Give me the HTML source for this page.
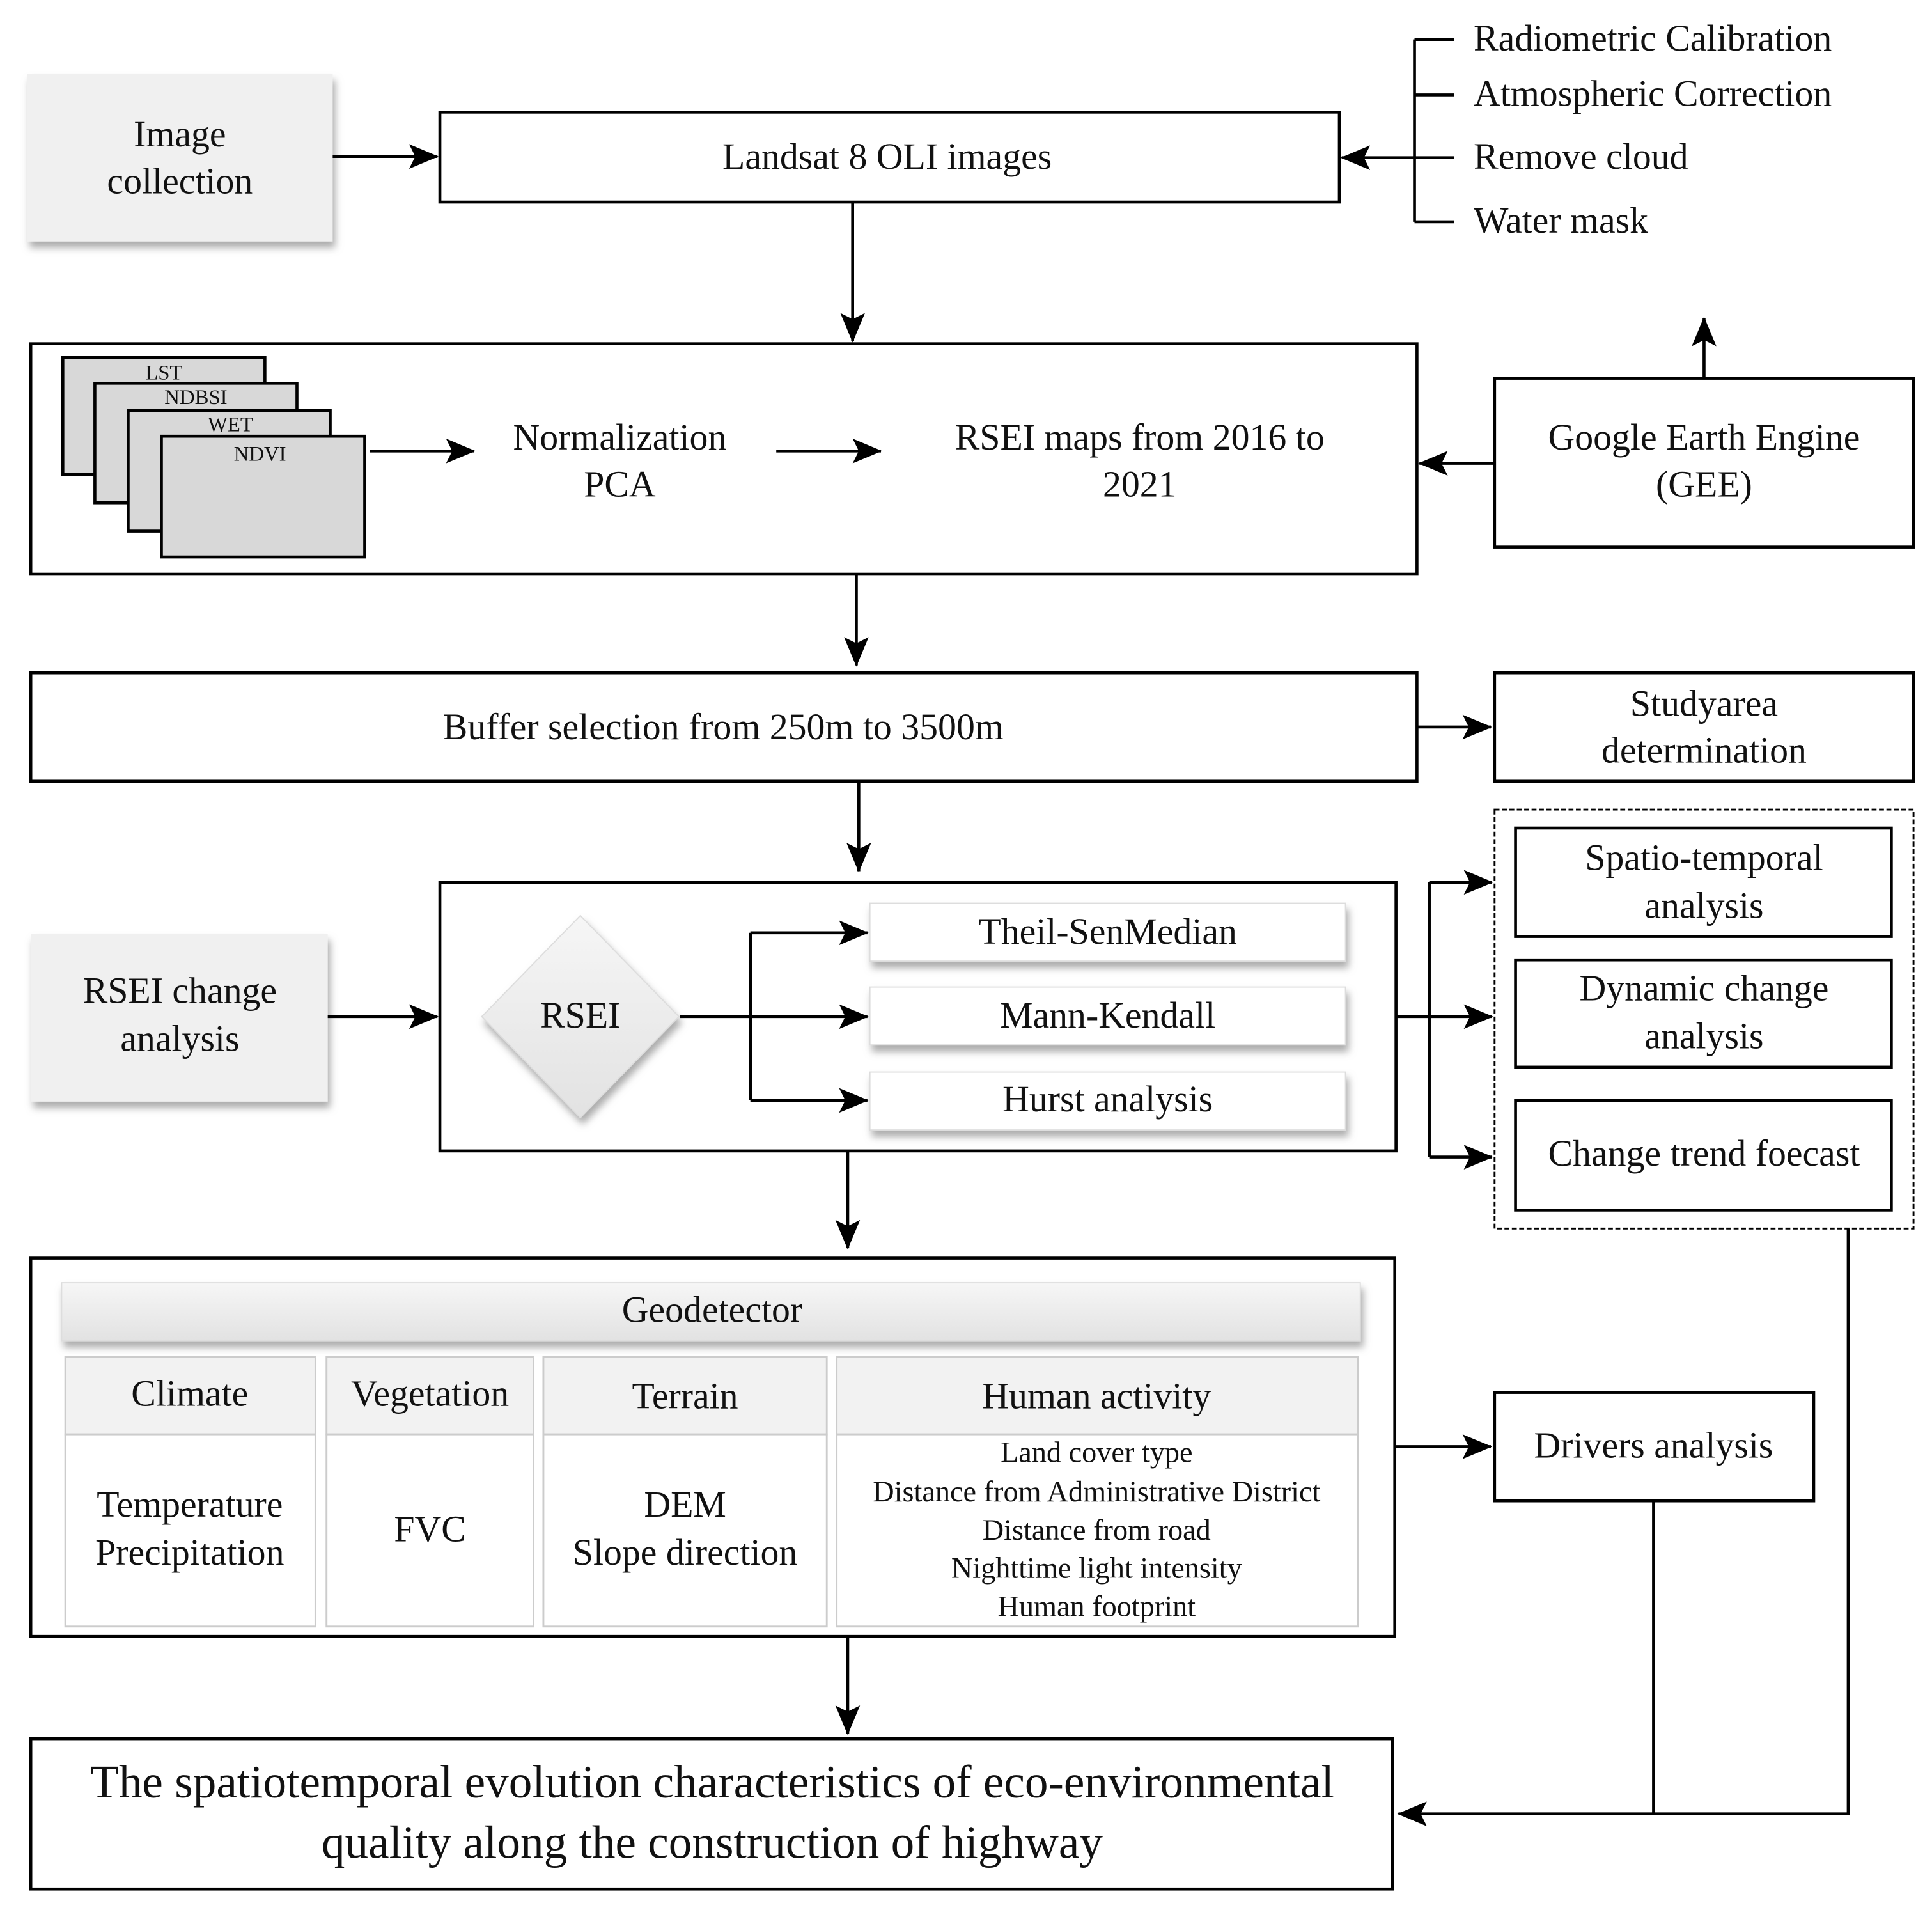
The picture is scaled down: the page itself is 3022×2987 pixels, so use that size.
<!DOCTYPE html>
<html><head><style>html,body{margin:0;padding:0;background:#fff}svg{display:block}</style></head><body>
<svg width="3022" height="2987" viewBox="0 0 1568 1550" preserveAspectRatio="none" xmlns="http://www.w3.org/2000/svg" font-family="Liberation Serif, serif" fill="#111">
<defs>
<marker id="A" markerWidth="24" markerHeight="20" refX="23" refY="10" orient="auto" markerUnits="userSpaceOnUse" viewBox="0 0 24 20"><path d="M0,0 L24,10 L0,20 L5,10 z" fill="#000"/></marker>
<filter id="sh" x="-10%" y="-10%" width="130%" height="140%"><feDropShadow dx="2" dy="5" stdDeviation="3" flood-color="#888" flood-opacity="0.7"/></filter>
<linearGradient id="g" x1="0" y1="0" x2="0" y2="1"><stop offset="0" stop-color="#f6f6f6"/><stop offset="1" stop-color="#e2e2e2"/></linearGradient>
</defs>
<g stroke="#000" stroke-width="2.4" fill="none">
<rect x="22" y="60" width="248" height="136" fill="#f0f0f0" stroke="none" filter="url(#sh)"/>
<rect x="357" y="91" width="730" height="73" fill="#fff"/>
<line x1="270" y1="127" x2="355" y2="127" marker-end="url(#A)"/>
<line x1="1148" y1="32" x2="1148" y2="180"/>
<line x1="1148" y1="32" x2="1180" y2="32"/><line x1="1148" y1="77" x2="1180" y2="77"/><line x1="1148" y1="128" x2="1180" y2="128"/><line x1="1148" y1="180" x2="1180" y2="180"/>
<line x1="1148" y1="128" x2="1089" y2="128" marker-end="url(#A)"/>
<line x1="692" y1="164" x2="692" y2="277" marker-end="url(#A)"/>
<rect x="25" y="279" width="1125" height="187"/>
<rect x="51" y="290" width="164" height="95" fill="#d8d8d8"/>
<rect x="77" y="311" width="164" height="97" fill="#d8d8d8"/>
<rect x="104" y="333" width="164" height="98" fill="#d8d8d8"/>
<rect x="131" y="354" width="165" height="98" fill="#d8d8d8"/>
<line x1="300" y1="366" x2="385" y2="366" marker-end="url(#A)"/>
<line x1="630" y1="366" x2="715" y2="366" marker-end="url(#A)"/>
<rect x="1213" y="307" width="340" height="137"/>
<line x1="1213" y1="376" x2="1152" y2="376" marker-end="url(#A)"/>
<line x1="1383" y1="307" x2="1383" y2="258" marker-end="url(#A)"/>
<line x1="695" y1="466" x2="695" y2="540" marker-end="url(#A)"/>
<rect x="25" y="546" width="1125" height="88"/>
<line x1="1150" y1="590" x2="1210" y2="590" marker-end="url(#A)"/>
<rect x="1213" y="546" width="340" height="88"/>
<line x1="697" y1="634" x2="697" y2="707" marker-end="url(#A)"/>
<rect x="25" y="758" width="241" height="136" fill="#f0f0f0" stroke="none" filter="url(#sh)"/>
<line x1="266" y1="825" x2="355" y2="825" marker-end="url(#A)"/>
<rect x="357" y="716" width="776" height="218"/>
<polygon points="471,743 551,825 471,907 391,825" fill="url(#g)" stroke="#ddd" stroke-width="1" filter="url(#sh)"/>
<rect x="706" y="733" width="386" height="47" fill="#fff" stroke="#ddd" stroke-width="1" filter="url(#sh)"/>
<rect x="706" y="801" width="386" height="47" fill="#fff" stroke="#ddd" stroke-width="1" filter="url(#sh)"/>
<rect x="706" y="870" width="386" height="47" fill="#fff" stroke="#ddd" stroke-width="1" filter="url(#sh)"/>
<line x1="552" y1="825" x2="704" y2="825" marker-end="url(#A)"/>
<line x1="609" y1="757" x2="609" y2="893"/>
<line x1="609" y1="757" x2="704" y2="757" marker-end="url(#A)"/>
<line x1="609" y1="893" x2="704" y2="893" marker-end="url(#A)"/>
<line x1="1133" y1="825" x2="1160" y2="825"/>
<line x1="1160" y1="716" x2="1160" y2="939"/>
<line x1="1160" y1="716" x2="1211" y2="716" marker-end="url(#A)"/>
<line x1="1160" y1="825" x2="1211" y2="825" marker-end="url(#A)"/>
<line x1="1160" y1="939" x2="1211" y2="939" marker-end="url(#A)"/>
<rect x="1213" y="657" width="340" height="340" stroke-dasharray="4,2" stroke-width="1.5"/>
<rect x="1230" y="672" width="305" height="88"/>
<rect x="1230" y="779" width="305" height="87"/>
<rect x="1230" y="893" width="305" height="89"/>
<polyline points="1500,997 1500,1472 1135,1472" marker-end="url(#A)"/>
<line x1="688" y1="934" x2="688" y2="1013" marker-end="url(#A)"/>
<rect x="25" y="1021" width="1107" height="307"/>
<rect x="50" y="1041" width="1054" height="47" fill="url(#g)" stroke="#ddd" stroke-width="1" filter="url(#sh)"/>
<g stroke="#ccc" stroke-width="1.5">
<rect x="53" y="1101" width="203" height="63" fill="#f2f2f2"/><rect x="53" y="1164" width="203" height="156" fill="#fff"/>
<rect x="265" y="1101" width="168" height="63" fill="#f2f2f2"/><rect x="265" y="1164" width="168" height="156" fill="#fff"/>
<rect x="441" y="1101" width="230" height="63" fill="#f2f2f2"/><rect x="441" y="1164" width="230" height="156" fill="#fff"/>
<rect x="679" y="1101" width="423" height="63" fill="#f2f2f2"/><rect x="679" y="1164" width="423" height="156" fill="#fff"/>
</g>
<line x1="1132" y1="1174" x2="1210" y2="1174" marker-end="url(#A)"/>
<rect x="1213" y="1130" width="259" height="88"/>
<line x1="1342" y1="1218" x2="1342" y2="1472"/>
<line x1="688" y1="1328" x2="688" y2="1407" marker-end="url(#A)"/>
<rect x="25" y="1411" width="1105" height="122"/>
</g>
<g font-size="30" text-anchor="middle" dominant-baseline="middle" transform="translate(0,2)">
<text x="146" y="110">Image</text><text x="146" y="148">collection</text>
<text x="720" y="128">Landsat 8 OLI images</text>
<g text-anchor="start"><text x="1196" y="32">Radiometric Calibration</text><text x="1196" y="77">Atmospheric Correction</text><text x="1196" y="128">Remove cloud</text><text x="1196" y="180">Water mask</text></g>
<g font-size="17"><text x="133" y="302">LST</text><text x="159" y="322">NDBSI</text><text x="187" y="344">WET</text><text x="211" y="368">NDVI</text></g>
<text x="503" y="356">Normalization</text><text x="503" y="394">PCA</text>
<text x="925" y="356">RSEI maps from 2016 to</text><text x="925" y="394">2021</text>
<text x="1383" y="356">Google Earth Engine</text><text x="1383" y="394">(GEE)</text>
<text x="587" y="591">Buffer selection from 250m to 3500m</text>
<text x="1383" y="572">Studyarea</text><text x="1383" y="610">determination</text>
<text x="146" y="805">RSEI change</text><text x="146" y="844">analysis</text>
<text x="471" y="825">RSEI</text>
<text x="899" y="757">Theil-SenMedian</text><text x="899" y="825">Mann-Kendall</text><text x="899" y="893">Hurst analysis</text>
<text x="1383" y="697">Spatio-temporal</text><text x="1383" y="736">analysis</text>
<text x="1383" y="803">Dynamic change</text><text x="1383" y="842">analysis</text>
<text x="1383" y="937">Change trend foecast</text>
<text x="578" y="1064">Geodetector</text>
<text x="154" y="1132">Climate</text><text x="349" y="1132">Vegetation</text><text x="556" y="1134">Terrain</text><text x="890" y="1134">Human activity</text>
<text x="154" y="1222">Temperature</text><text x="154" y="1261">Precipitation</text>
<text x="349" y="1242">FVC</text>
<text x="556" y="1222">DEM</text><text x="556" y="1261">Slope direction</text>
<g font-size="24"><text x="890" y="1179">Land cover type</text><text x="890" y="1211">Distance from Administrative District</text><text x="890" y="1242">Distance from road</text><text x="890" y="1273">Nighttime light intensity</text><text x="890" y="1304">Human  footprint</text></g>
<text x="1342" y="1174">Drivers analysis</text>
<g font-size="38"><text x="578" y="1448">The spatiotemporal evolution characteristics of eco-environmental</text><text x="578" y="1497">quality along the construction of highway</text></g>
</g>
</svg>
</body></html>
